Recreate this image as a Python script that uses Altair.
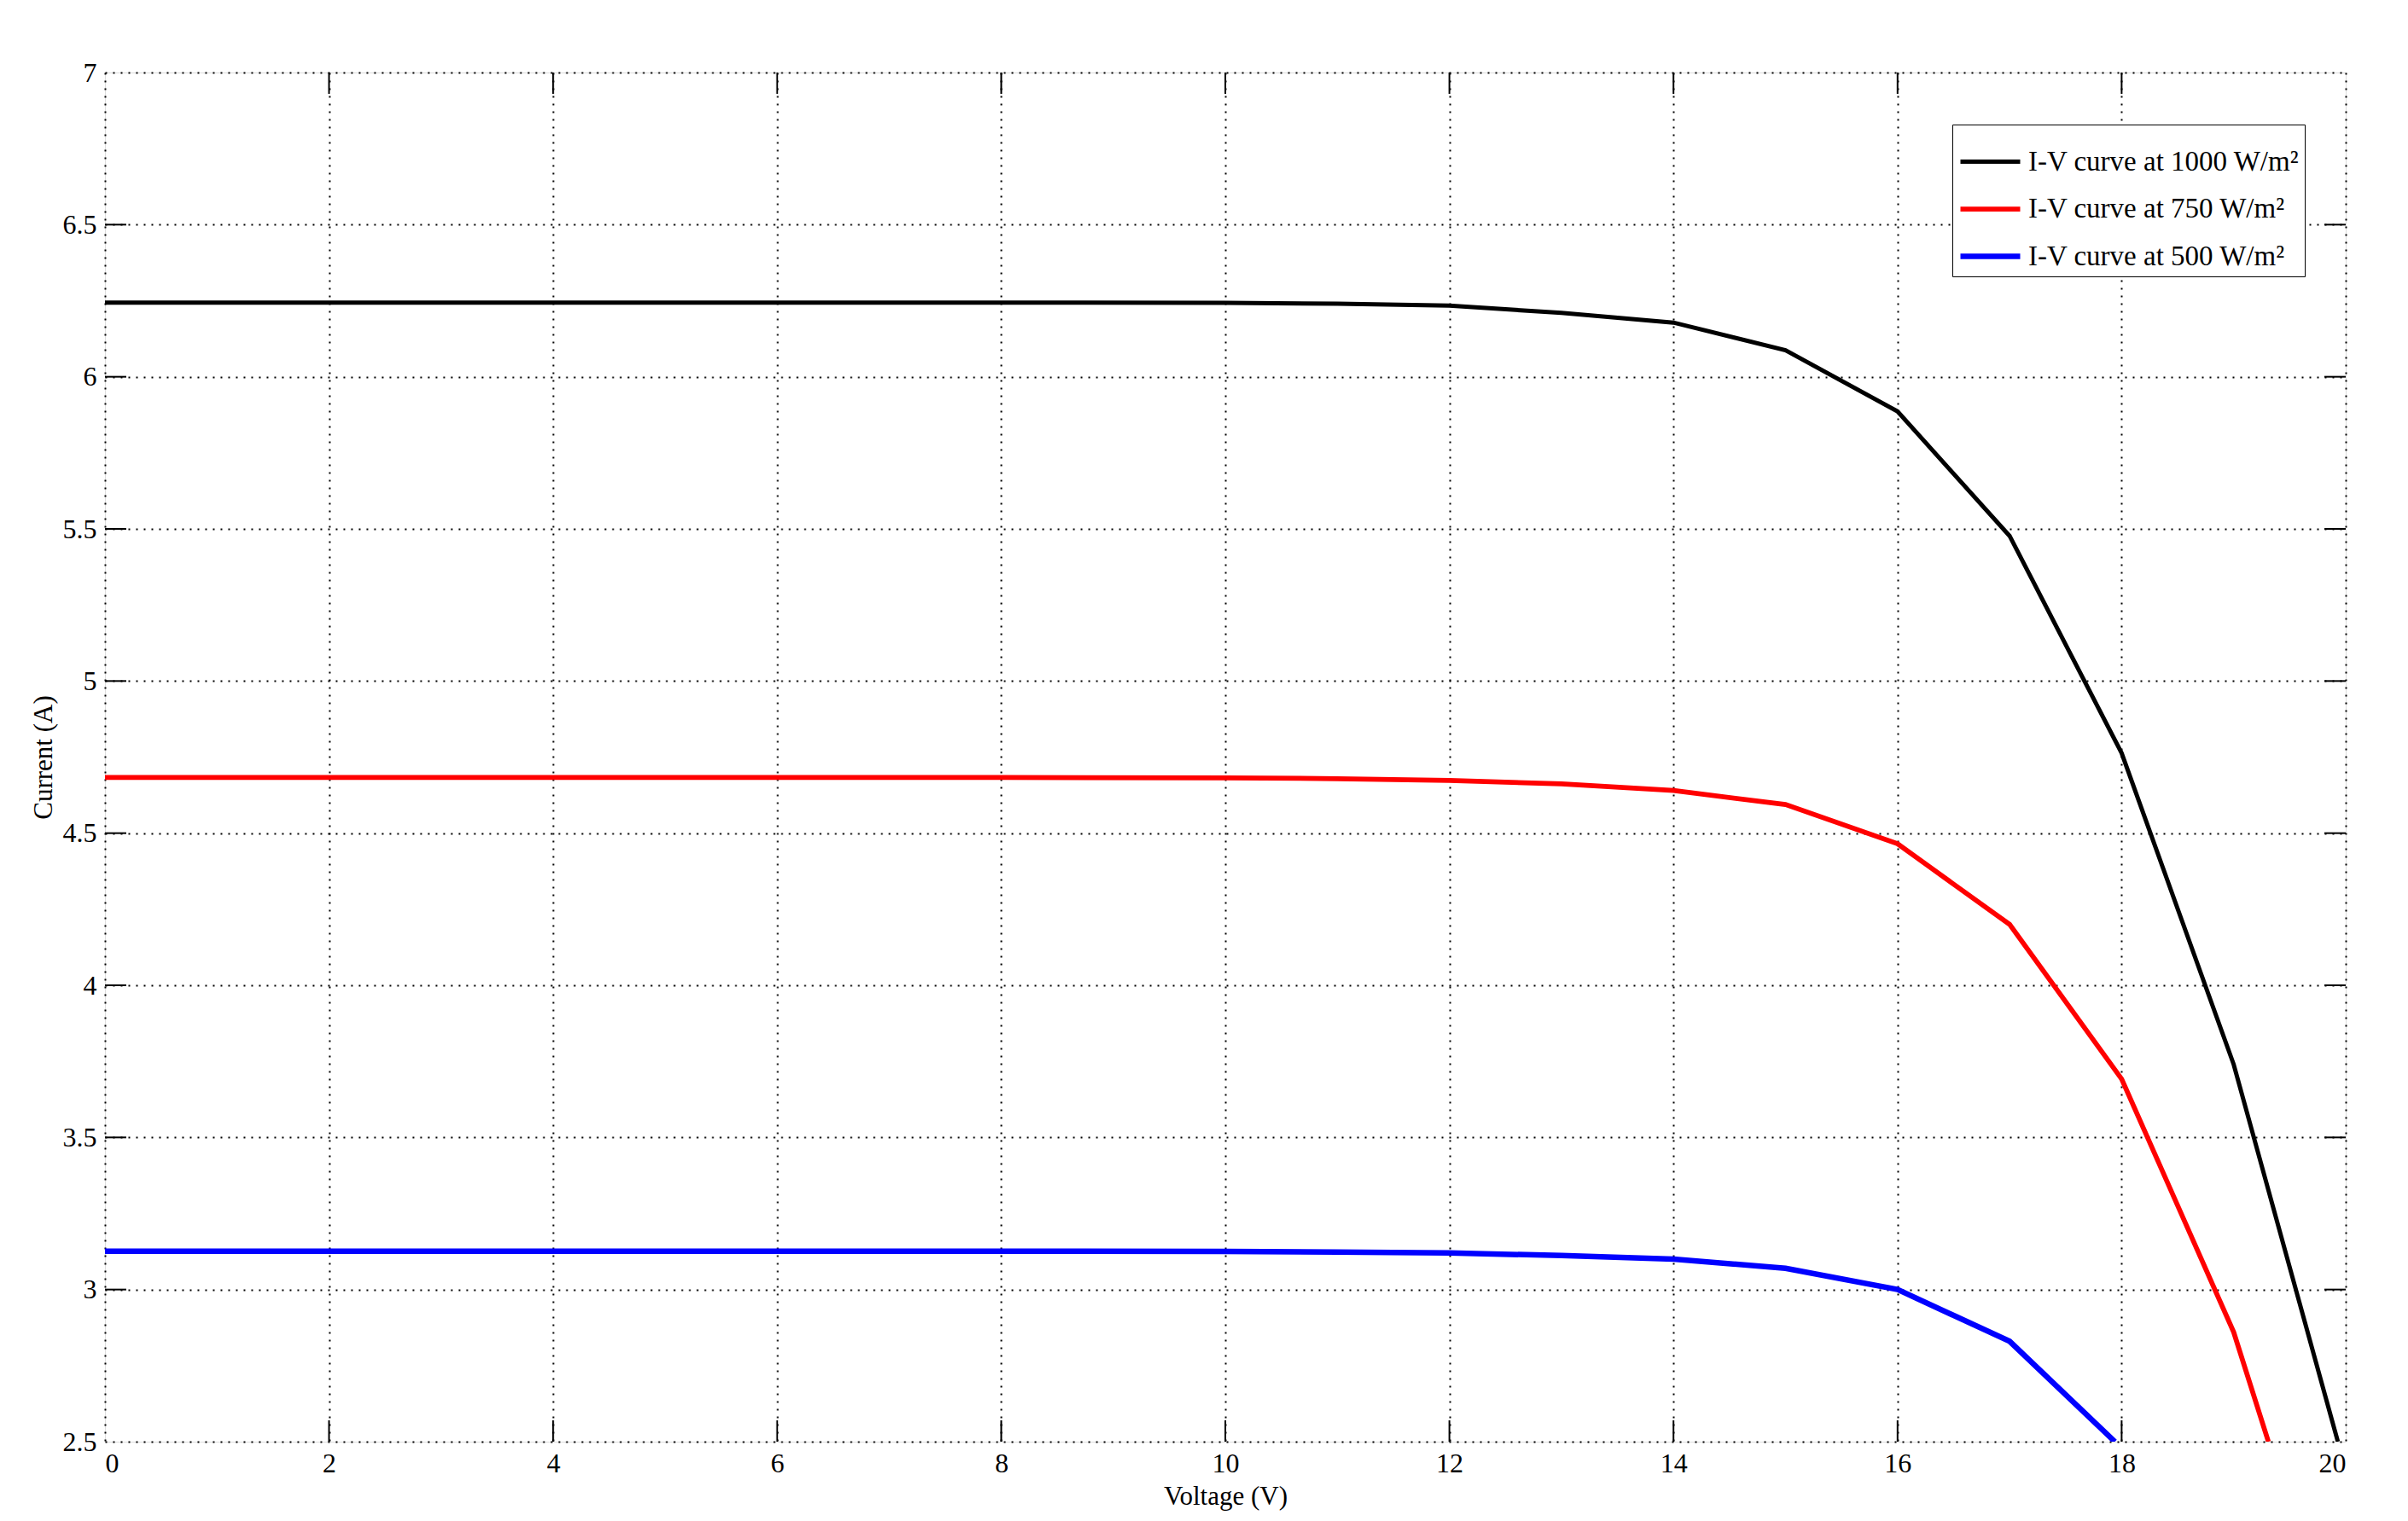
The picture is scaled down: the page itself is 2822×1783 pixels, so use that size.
import altair as alt
import pandas as pd

# ---- data ----
labels = ["I-V curve at 1000 W/m²", "I-V curve at 750 W/m²", "I-V curve at 500 W/m²"]
colors = ["#000000", "#ff0000", "#0000ff"]
widths = [5, 6.5, 6]

v_1000 = [0, 2, 4, 6, 8, 10, 11, 12, 13, 14, 15, 16, 17, 18, 19, 19.93]
i_1000 = [6.244, 6.244, 6.244, 6.244, 6.244, 6.243, 6.24, 6.234, 6.21, 6.178, 6.087, 5.886, 5.477, 4.763, 3.74, 2.5]

v_750 = [0, 2, 4, 6, 8, 10, 11, 12, 13, 14, 15, 16, 17, 18, 19, 19.31]
i_750 = [4.683, 4.683, 4.683, 4.683, 4.683, 4.682, 4.679, 4.673, 4.662, 4.64, 4.594, 4.465, 4.2, 3.692, 2.86, 2.5]

v_500 = [0, 2, 4, 6, 8, 10, 11, 12, 13, 14, 15, 16, 17, 17.94]
i_500 = [3.126, 3.126, 3.126, 3.126, 3.126, 3.125, 3.123, 3.12, 3.112, 3.1, 3.07, 3.0, 2.83, 2.5]

x_ticks = [0, 2, 4, 6, 8, 10, 12, 14, 16, 18, 20]
y_ticks = [2.5, 3, 3.5, 4, 4.5, 5, 5.5, 6, 6.5, 7]

W, H = 2626, 1605
FONT = "Liberation Serif"

rows = []
for lab, vs, cs in zip(labels, [v_1000, v_750, v_500], [i_1000, i_750, i_500]):
    for k, (v, c) in enumerate(zip(vs, cs)):
        rows.append({"series": lab, "V": v, "I": c, "order": k})
df = pd.DataFrame(rows)

xscale = alt.Scale(domain=[0, 20], nice=False, zero=False)
yscale = alt.Scale(domain=[2.5, 7], nice=False, zero=False)

grid_kw = dict(grid=True, gridDash=[2, 7], gridColor="#000000", gridWidth=2,
               gridOpacity=1, tickSize=0, domain=False, labelPadding=10,
               labelFont=FONT, labelFontSize=32, labelColor="#000000",
               titleFont=FONT, titleFontSize=31, titleFontWeight="normal",
               titleColor="#000000")

lines = alt.Chart(df).mark_line(clip=True).encode(
    x=alt.X("V:Q", scale=xscale,
            axis=alt.Axis(values=x_ticks, format="d", title="Voltage (V)",
                          titlePadding=8, **grid_kw)),
    y=alt.Y("I:Q", scale=yscale,
            axis=alt.Axis(values=y_ticks, format=".1~f", title="Current (A)",
                          titlePadding=6, **grid_kw)),
    color=alt.Color("series:N", scale=alt.Scale(domain=labels, range=colors),
                    legend=alt.Legend(title=None, orient="none", legendX=2165, legendY=61,
                                      strokeColor="#000000", fillColor="#ffffff",
                                      padding=6, labelFont=FONT, labelFontSize=33,
                                      labelColor="#000000", symbolType="stroke",
                                      symbolSize=4900, symbolStrokeWidth=5,
                                      rowPadding=-1, labelOffset=6, labelLimit=600)),
    strokeWidth=alt.StrokeWidth("series:N", scale=alt.Scale(domain=labels, range=widths), legend=None),
    order="order:Q",
)

xt = pd.DataFrame({"v": x_ticks[1:-1]})
yt = pd.DataFrame({"v": y_ticks[1:-1]})
TL = 25
tick_bottom = alt.Chart(xt).mark_rule(color="#000000", strokeWidth=2).encode(
    x=alt.X("v:Q", scale=xscale), y=alt.value(H), y2=alt.value(H - TL))
tick_top = alt.Chart(xt).mark_rule(color="#000000", strokeWidth=2).encode(
    x=alt.X("v:Q", scale=xscale), y=alt.value(0), y2=alt.value(TL))
tick_left = alt.Chart(yt).mark_rule(color="#000000", strokeWidth=2).encode(
    y=alt.Y("v:Q", scale=yscale), x=alt.value(0), x2=alt.value(TL))
tick_right = alt.Chart(yt).mark_rule(color="#000000", strokeWidth=2).encode(
    y=alt.Y("v:Q", scale=yscale), x=alt.value(W), x2=alt.value(W - TL))

chart = alt.layer(lines, tick_bottom, tick_top, tick_left, tick_right).properties(
    width=W, height=H,
    autosize=alt.AutoSizeParams(type="none"),
    padding={"left": 115, "top": 77, "right": 65, "bottom": 85},
).configure_view(stroke="#000000", strokeWidth=2.5).configure(background="#ffffff")

chart.save("out.html", embed_options={"renderer": "svg", "actions": False})
